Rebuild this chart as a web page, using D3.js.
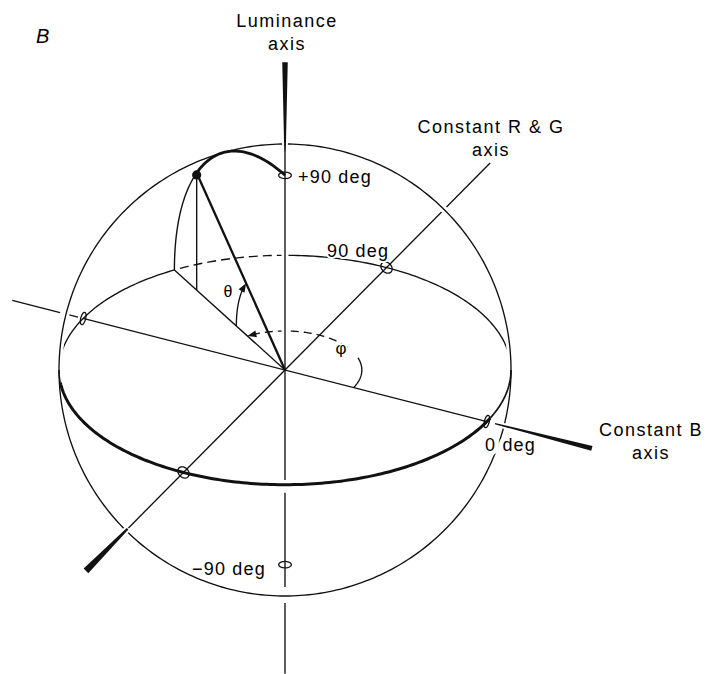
<!DOCTYPE html>
<html>
<head>
<meta charset="utf-8">
<script src="https://cdn.jsdelivr.net/npm/d3@7"></script>
<style>
    body { margin: 0; background: #fff; }
    text { font-family: "Liberation Sans", Arial, sans-serif; fill: #000; }
</style>
</head>
<body>
<div id="chart"></div>
<script>
"use strict";

/* ------------------------------ Data ------------------------------ */

// example colour on the sphere (deg)
const pointTheta = 37;   // elevation above the isoluminant plane
const pointPhi = 146;    // azimuth from the constant B axis

// view of the sphere (deg)
const viewAzimuth = 26.7;
const viewElevation = 30.5;

// axis unit vectors in (B, R&G, Luminance) space
const axisKeys = ["B", "RG", "L"];
const axisVectors = [[1, 0, 0], [0, 1, 0], [0, 0, 1]];
const axisTitles = [["Constant B", "axis"], ["Constant R & G", "axis"], ["Luminance", "axis"]];

// thin pieces drawn along each axis, in sphere radii (gaps = hidden line breaks)
const thinPieces = [
    [[-1.351, -1.114], [-1.079, -1.025], [-1, 1]],
    [[-1.58, 2.02]],
    [[-1.56, -1.196], [-1.114, -0.631], [-0.565, 1.16]]
];
// heavy tapered end of each axis, in sphere radii
const heavyPieces = [[1.04, 1.52], [-1.55, -1.96], [1.12, 1.58]];

// unit markers on the sphere
const markerDirs = [[1, 0, 0], [-1, 0, 0], [0, 1, 0], [0, -1, 0], [0, 0, 1], [0, 0, -1]];
const markerLabels = ["0 deg", "90 deg", "+90 deg", "\u221290 deg"];
const panelLabel = "B";
const angleLabels = ["\u03b8", "\u03c6"];

/* ------------------------------ Chart ------------------------------ */

const width = 710, height = 674;
const cx = 285, cy = 370, R = 226;

const x = d3.scaleLinear().domain([-1, 1]).range([cx - R, cx + R]);
const y = d3.scaleLinear().domain([-1, 1]).range([cy + R, cy - R]);

const rad = Math.PI / 180;
const az = viewAzimuth * rad, el = viewElevation * rad;

// orthographic projection of a point in sphere space
const project = (p) => {
    var sx = p[0] * Math.cos(az) + p[1] * Math.sin(az);
    var depth = -p[0] * Math.sin(az) + p[1] * Math.cos(az);
    var sy = p[2] * Math.cos(el) + depth * Math.sin(el);
    return [x(sx), y(sy)];
}

const scale = (v, t) => v.map(c => c * t);
const sph = (phi, theta) => [
    Math.cos(theta * rad) * Math.cos(phi * rad),
    Math.cos(theta * rad) * Math.sin(phi * rad),
    Math.sin(theta * rad)
];
const range = (a, b, step) => {
    var n = Math.max(2, Math.ceil(Math.abs(b - a) / step) + 1);
    return d3.range(n).map(i => a + (b - a) * i / (n - 1));
}

const line = d3.line();
const thin = 1.35;

const svg = d3.select("#chart")
    .append("svg")
    .attr("width", width)
    .attr("height", height);

const strokePath = (pts, w, opts) => {
    opts = opts || {};
    return svg.append("path")
        .attr("d", line(pts))
        .attr("fill", "none")
        .attr("stroke", opts.color || "#111")
        .attr("stroke-width", w)
        .attr("stroke-dasharray", opts.dash || null)
        .attr("stroke-linecap", opts.cap || "butt");
}

// equator and other arcs
const equatorPts = (a, b) => range(a, b, 1).map(f => project(sph(f, 0)));
const ringPts = (r, a, b) => range(a, b, 1).map(f => project(scale(sph(f, 0), r)));
const meridianPts = (r, a, b) => range(a, b, 1).map(t => project(scale(sph(pointPhi, t), r)));

const arrowHead = (tip, from, len, half) => {
    var dx = tip[0] - from[0], dy = tip[1] - from[1];
    var l = Math.hypot(dx, dy);
    dx /= l; dy /= l;
    var bx = tip[0] - dx * len, by = tip[1] - dy * len;
    svg.append("path")
        .attr("d", line([tip, [bx - dy * half, by + dx * half], [bx + dy * half, by - dx * half]]) + "Z")
        .attr("fill", "#111");
}

// horizon of the equator is where it meets the outline
const horizon = viewAzimuth;

// back half of the equator
strokePath(equatorPts(horizon, 116.5), thin);
strokePath(equatorPts(116.5, pointPhi), thin, { dash: "9,5" });
strokePath(equatorPts(pointPhi, horizon + 180), thin);

// phi arc in the isoluminant plane
const phiR = 0.34;
strokePath(ringPts(phiR, 0, 45), thin);
strokePath(ringPts(phiR, 62, 139), thin, { dash: "8,5" });
strokePath(ringPts(phiR, 139, pointPhi - 3), thin);

// white break of lines passing behind the luminance axis
strokePath([project([0, 0, 0.15]), project([0, 0, 1.1])], 7, { color: "#fff" });

// thin axis lines
thinPieces.forEach((pieces, i) => {
    pieces.forEach(seg => {
        strokePath([project(scale(axisVectors[i], seg[0])), project(scale(axisVectors[i], seg[1]))], thin);
    });
});

// sphere outline
const outlinePts = range(0, 360, 1).map(a => [x(Math.cos(a * rad)), y(Math.sin(a * rad))]);
strokePath(outlinePts, 7, { color: "#fff" });
strokePath(outlinePts, 1.35);

// front half of the equator
strokePath(equatorPts(horizon + 180, 213), 1.4);
strokePath(equatorPts(213, 362), 3);
strokePath(equatorPts(362, horizon + 360), 1.7);

// heavy tapered ends of the axes
const heavyW = [[1.3, 5], [2.2, 6.5], [1.5, 5.5]];
heavyPieces.forEach((seg, i) => {
    var p0 = project(scale(axisVectors[i], seg[0]));
    var p1 = project(scale(axisVectors[i], seg[1]));
    var dx = p1[0] - p0[0], dy = p1[1] - p0[1];
    var l = Math.hypot(dx, dy);
    var nx = -dy / l, ny = dx / l;
    var w0 = heavyW[i][0] / 2, w1 = heavyW[i][1] / 2;
    var poly = [
        [p0[0] + nx * w0, p0[1] + ny * w0],
        [p1[0] + nx * w1, p1[1] + ny * w1],
        [p1[0] - nx * w1, p1[1] - ny * w1],
        [p0[0] - nx * w0, p0[1] - ny * w0]
    ];
    // narrow white edge only along the sides, so the thin part stays joined
    svg.append("path")
        .attr("d", line([poly[0], poly[1]]) + line([poly[2], poly[3]]).replace("M", "M"))
        .attr("fill", "none")
        .attr("stroke", "#fff")
        .attr("stroke-width", 4);
    svg.append("path")
        .attr("d", line(poly) + "Z")
        .attr("fill", "#111");
});

// construction of the example point
const P = sph(pointPhi, pointTheta);
const E = sph(pointPhi, 0);
const foot = scale(E, Math.cos(pointTheta * rad));

strokePath([project([0, 0, 0]), project(E)], thin);
strokePath([project(P), project(foot)], 1.4);
strokePath(meridianPts(1, 0, pointTheta), 1.4);
strokePath(meridianPts(1, pointTheta, 90), 2.8);
strokePath([project([0, 0, 0]), project(P)], 2.3);

// theta arc
const thetaR = 0.44;
var thetaArc = meridianPts(thetaR, 0, pointTheta - 4);
strokePath(thetaArc, thin);
arrowHead(project(scale(P, thetaR)), project(scale(sph(pointPhi, pointTheta - 6), thetaR)), 9, 3.4);

// phi arrow
arrowHead(project(scale(E, phiR)), project(scale(sph(pointPhi - 8, 0), phiR)), 9, 3.4);

// unit markers: small circles on the sphere surface
const markerRho = 0.028;
markerDirs.forEach(n => {
    var a = n[2] !== 0 ? [1, 0, 0] : (n[0] !== 0 ? [0, 1, 0] : [1, 0, 0]);
    var b = n[2] !== 0 ? [0, 1, 0] : [0, 0, 1];
    var pts = range(0, 360, 10).map(t => {
        var c = Math.cos(t * rad) * Math.sin(markerRho), s = Math.sin(t * rad) * Math.sin(markerRho);
        return project([
            n[0] * Math.cos(markerRho) + a[0] * c + b[0] * s,
            n[1] * Math.cos(markerRho) + a[1] * c + b[1] * s,
            n[2] * Math.cos(markerRho) + a[2] * c + b[2] * s
        ]);
    });
    strokePath(pts, 1.3);
});

// the example point
var pp = project(P);
svg.append("circle")
    .attr("cx", pp[0])
    .attr("cy", pp[1] + 2)
    .attr("r", 4.6)
    .attr("fill", "#111");

/* ------------------------------ Labels ------------------------------ */

const addText = (str, tx, ty, anchor, size, extra, halo) => {
    return svg.append("text")
        .attr("x", tx)
        .attr("y", ty)
        .attr("text-anchor", anchor)
        .attr("font-size", size)
        .attr("letter-spacing", extra === undefined ? 1.5 : extra)
        .attr("stroke", "#fff")
        .attr("stroke-width", halo || 4)
        .attr("stroke-linejoin", "round")
        .attr("paint-order", "stroke")
        .text(str);
}

// axis titles
const titlePos = [[651, 436], [491, 133], [287, 27]];
axisTitles.forEach((t, i) => {
    addText(t[0], titlePos[i][0], titlePos[i][1], "middle", 18);
    addText(t[1], titlePos[i][0], titlePos[i][1] + 23, "middle", 18);
});

// marker labels
const labelPos = [[485, 451], [327, 257], [298, 183], [192, 575]];
markerLabels.forEach((t, i) => addText(t, labelPos[i][0], labelPos[i][1], "start", 18, 1.2, i === 0 ? 9 : 4));

addText(panelLabel, 36, 43, "start", 20, 0).attr("font-style", "italic");
addText(angleLabels[0], 228, 297, "middle", 16, 0);
addText(angleLabels[1], 341, 354, "middle", 17, 0);
</script>
</body>
</html>
